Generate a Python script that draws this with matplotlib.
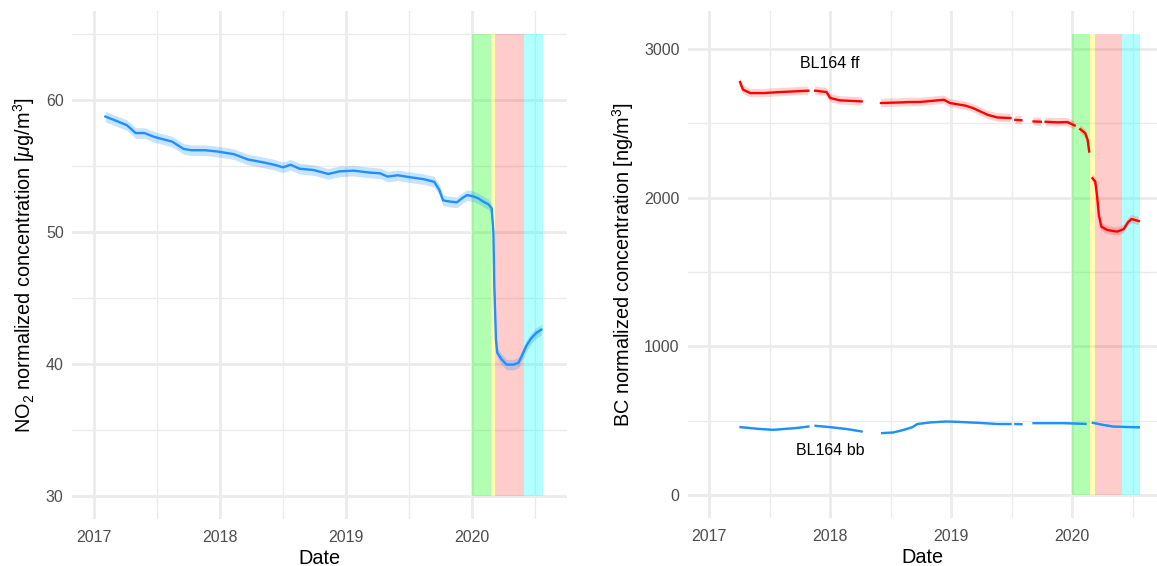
import numpy as np
import matplotlib
matplotlib.use("Agg")
import matplotlib.pyplot as plt

plt.rcParams['font.family'] = ['Liberation Sans', 'DejaVu Sans']
plt.rcParams['mathtext.fontset'] = 'custom'
plt.rcParams['mathtext.rm'] = 'Liberation Sans'
plt.rcParams['mathtext.it'] = 'Liberation Sans:italic'
plt.rcParams['mathtext.bf'] = 'Liberation Sans:bold'

# ---- NO2 normalized concentration (decimal year, ug/m3) ----
no2_date = [2017.09, 2017.17, 2017.26, 2017.33, 2017.40, 2017.48, 2017.62, 2017.71,
            2017.77, 2017.88, 2017.98, 2018.11, 2018.22, 2018.33, 2018.43, 2018.50,
            2018.56, 2018.63, 2018.74, 2018.86, 2018.95, 2019.06, 2019.19, 2019.27,
            2019.33, 2019.41, 2019.51, 2019.62, 2019.70, 2019.74, 2019.77, 2019.83,
            2019.88, 2019.92, 2019.96, 2020.01, 2020.05, 2020.09, 2020.13, 2020.156,
            2020.17, 2020.177, 2020.19, 2020.20, 2020.235, 2020.275, 2020.33, 2020.37,
            2020.39, 2020.43, 2020.47, 2020.51, 2020.55]
no2_value = [58.75, 58.45, 58.1, 57.5, 57.5, 57.2, 56.85, 56.3,
             56.2, 56.2, 56.1, 55.9, 55.5, 55.3, 55.1, 54.9,
             55.1, 54.8, 54.7, 54.4, 54.6, 54.65, 54.5, 54.45,
             54.2, 54.3, 54.15, 54.0, 53.8, 53.2, 52.4, 52.3,
             52.25, 52.55, 52.8, 52.7, 52.55, 52.3, 52.1, 51.8,
             49.9, 45.9, 41.9, 40.85, 40.35, 39.95, 39.95, 40.1,
             40.5, 41.35, 41.95, 42.35, 42.6]
no2_band = 0.4

# ---- BC normalized concentration, BL164 ff (ng/m3); NaN marks missing data ----
ff_date = [2017.256, 2017.28, 2017.34, 2017.45, 2017.59, 2017.72, 2017.82, 2017.85,
           2017.876, 2017.97, 2018.0, 2018.08, 2018.26, 2018.34, 2018.42, 2018.58,
           2018.66, 2018.74, 2018.94, 2018.99, 2019.12, 2019.18, 2019.30, 2019.38,
           2019.49, 2019.51, 2019.53, 2019.58, 2019.63, 2019.68, 2019.74, 2019.76,
           2019.78, 2019.88, 2019.96, 2020.02, 2020.045, 2020.066, 2020.107, 2020.127,
           2020.14, 2020.155, 2020.167, 2020.19, 2020.204, 2020.22, 2020.24, 2020.29,
           2020.37, 2020.425, 2020.46, 2020.49, 2020.55]
ff_value = [2777, 2726, 2703, 2703, 2710, 2715, 2719, np.nan,
            2719, 2710, 2670, 2654, 2647, np.nan, 2636, 2640,
            2643, 2643, 2658, 2636, 2618, 2602, 2557, 2539,
            2535, np.nan, 2523, 2520, np.nan, 2512, 2510, np.nan,
            2510, 2506, 2508, 2485, np.nan, 2460, 2434, 2388,
            2310, np.nan, 2130, 2108, 2018, 1883, 1804, 1782,
            1771, 1788, 1833, 1856, 1842]
ff_band = 28

# ---- BC normalized concentration, BL164 bb (ng/m3) ----
bb_date = [2017.26, 2017.40, 2017.53, 2017.72, 2017.82, 2017.85, 2017.88, 2018.0,
           2018.14, 2018.26, 2018.34, 2018.43, 2018.52, 2018.61, 2018.68, 2018.72,
           2018.83, 2018.96, 2019.10, 2019.27, 2019.38, 2019.49, 2019.51, 2019.53,
           2019.58, 2019.63, 2019.68, 2019.80, 2019.93, 2020.07, 2020.11, 2020.14,
           2020.17, 2020.25, 2020.34, 2020.45, 2020.55]
bb_value = [456, 445, 438, 450, 460, np.nan, 465, 456,
            443, 427, np.nan, 416, 420, 438, 456, 477,
            488, 494, 490, 483, 477, 477, np.nan, 477,
            476, np.nan, 483, 483, 483, 479, 478, np.nan,
            485, 472, 460, 457, 455]
bb_band = 7

# ---- 2020 periods shaded on both panels ----
period_start = [2020.0, 2020.15, 2020.185, 2020.415]
period_end = [2020.15, 2020.185, 2020.415, 2020.56]
period_color = ['#00FF00', '#FFFF00', '#FF0000', '#00FFFF']
period_alpha = [0.3, 0.3, 0.2, 0.3]

year_ticks = [2017, 2018, 2019, 2020]
year_labels = ['2017', '2018', '2019', '2020']

BLUE = '#1E90FF'
GRID = '#EBEBEB'
TICK_COLOR = '#4D4D4D'

fig = plt.figure(figsize=(11.57, 5.66), dpi=100)
ax1 = fig.add_axes([72 / 1157, 47 / 566, 495 / 1157, 508 / 566])
ax2 = fig.add_axes([688 / 1157, 48 / 566, 469 / 1157, 507 / 566])


def style(ax, xlim, ylim, yticks, yminor):
    ax.set_xlim(*xlim)
    ax.set_ylim(*ylim)
    for s in ax.spines.values():
        s.set_visible(False)
    ax.set_xticks(year_ticks)
    ax.set_xticklabels(year_labels)
    ax.set_xticks([y + 0.5 for y in year_ticks], minor=True)
    ax.set_yticks(yticks)
    ax.set_yticks(yminor, minor=True)
    ax.set_axisbelow(True)
    ax.grid(which='major', color=GRID, lw=2.0)
    ax.grid(which='minor', color=GRID, lw=1.0)
    ax.tick_params(which='both', length=0, labelsize=11.5, labelcolor=TICK_COLOR)
    ax.tick_params(axis='x', pad=8)
    ax.tick_params(axis='y', pad=6)
    ax.set_xlabel('Date', fontsize=14.3, labelpad=3)


def shade(ax, ymin, ymax):
    for x0, x1, c, a in zip(period_start, period_end, period_color, period_alpha):
        ax.fill_between([x0, x1], ymin, ymax, color=c, alpha=a, lw=0, zorder=1)


def series(ax, dates, values, band, color, band_alpha):
    d = np.asarray(dates, float)
    v = np.asarray(values, float)
    ax.fill_between(d, v - band, v + band, color=color, alpha=band_alpha, lw=0, zorder=2)
    ax.plot(d, v, color=color, lw=1.7, zorder=3)


# Left panel: NO2
shade(ax1, 30, 65)
series(ax1, no2_date, no2_value, no2_band, BLUE, 0.25)
style(ax1, (2016.825, 2020.754), (28.25, 66.75), [30, 40, 50, 60], [35, 45, 55, 65])
ax1.set_ylabel(r'NO$_\mathregular{2}$ normalized concentration [$\mu$g/m$^\mathregular{3}$]',
               fontsize=14.3, labelpad=6)

# Right panel: BC
shade(ax2, 0, 3100)
series(ax2, ff_date, ff_value, ff_band, '#FF0000', 0.18)
series(ax2, bb_date, bb_value, bb_band, BLUE, 0.25)
style(ax2, (2016.826, 2020.70), (-155, 3255), [0, 1000, 2000, 3000], [500, 1500, 2500])
ax2.set_ylabel(r'BC normalized concentration [ng/m$^\mathregular{3}$]', fontsize=14.3, labelpad=6)
ax2.text(2018.0, 2900, 'BL164 ff', ha='center', va='center', fontsize=11.5, color='black')
ax2.text(2018.0, 300, 'BL164 bb', ha='center', va='center', fontsize=11.5, color='black')

fig.savefig('out.png', dpi=100)
